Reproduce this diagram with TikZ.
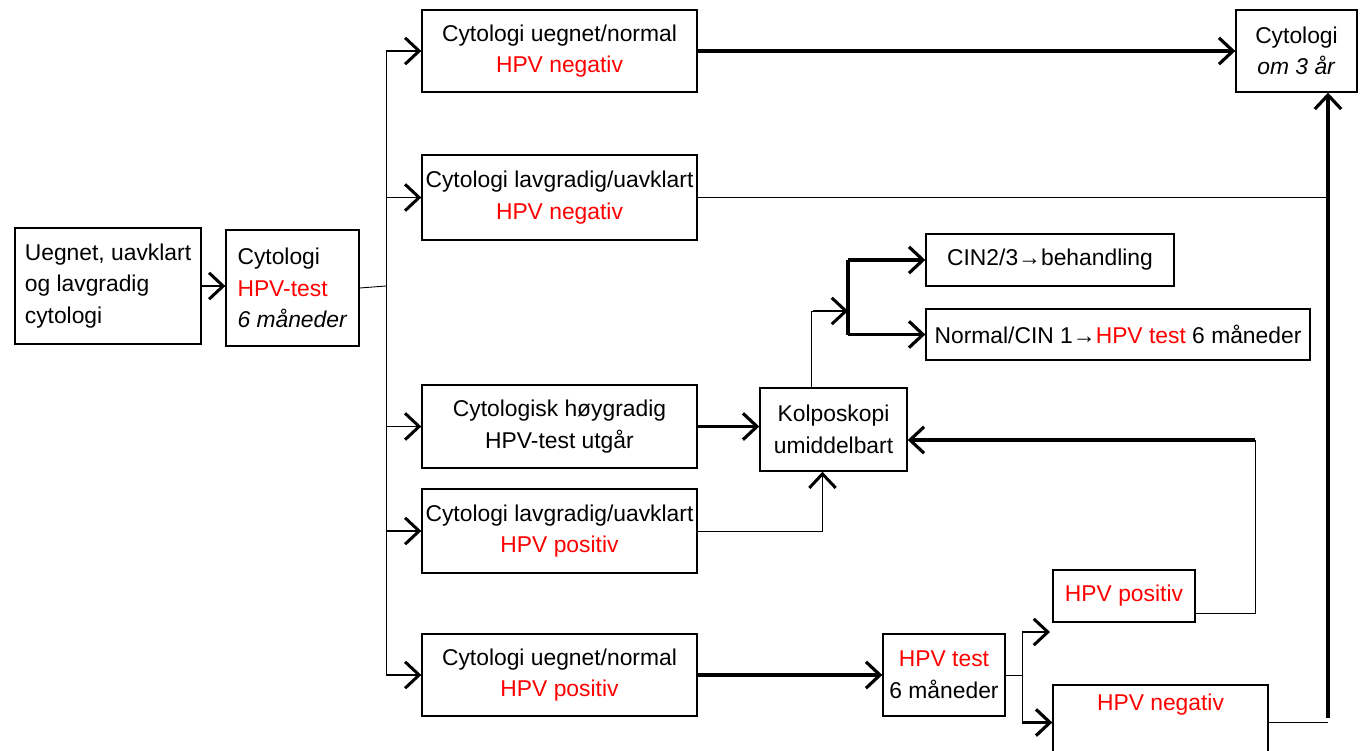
\documentclass[tikz,border=0pt]{standalone}
\usepackage{fontspec}
\setmainfont{Liberation Sans}
\usetikzlibrary{arrows.meta}
\definecolor{hpvred}{RGB}{255,0,0}
\newcommand{\hpv}[1]{\textcolor{hpvred}{#1}}

\begin{document}
\begin{tikzpicture}[x=0.02cm, y=-0.02cm,
  cellbox/.style={draw, line width=0.8pt, align=center, inner sep=2pt, font=\fontsize{13}{18}\selectfont},
  thinline/.style={line width=0.5pt},
  fatline/.style={line width=2.2pt},
  midarrow/.style={line width=1.1pt, -{Straight Barb[length=8pt,width=15pt,line width=1.7pt]}},
  fatarrow/.style={line width=2.2pt, -{Straight Barb[length=8pt,width=15pt,line width=1.8pt]}}]
\useasboundingbox (0,0) rectangle (1360,751);

% boxes
\node[cellbox, align=left, minimum width=3.72cm, minimum height=2.32cm] (start) at (108,286) {Uegnet, uavklart\\og lavgradig\\cytologi};
\node[cellbox, align=left, minimum width=2.66cm, minimum height=2.32cm] (halvaar) at (292.5,288) {Cytologi\\\hpv{HPV-test}\\\textit{6 måneder}};
\node[cellbox, minimum width=5.5cm, minimum height=1.64cm] (negA) at (559.5,51) {Cytologi uegnet/normal\\\hpv{HPV negativ}};
\node[cellbox, minimum width=5.5cm, minimum height=1.7cm] (negB) at (559.5,197.5) {Cytologi lavgradig/uavklart\\\hpv{HPV negativ}};
\node[cellbox, minimum width=5.5cm, minimum height=1.66cm] (hoyC) at (559.5,426.5) {Cytologisk høygradig\\HPV-test utgår};
\node[cellbox, minimum width=5.5cm, minimum height=1.68cm] (posD) at (559.5,531) {Cytologi lavgradig/uavklart\\\hpv{HPV positiv}};
\node[cellbox, minimum width=5.5cm, minimum height=1.64cm] (posE) at (559.5,675) {Cytologi uegnet/normal\\\hpv{HPV positiv}};
\node[cellbox, minimum width=2.42cm, minimum height=1.64cm] (om3) at (1296.5,51) {Cytologi\\\textit{om 3 år}};
\node[cellbox, minimum width=2.94cm, minimum height=1.66cm] (kolpo) at (833.5,429.5) {Kolposkopi\\umiddelbart};
\node[cellbox, minimum width=4.96cm, minimum height=1.04cm] (cin23) at (1050,260) {CIN2/3→behandling};
\node[cellbox, minimum width=7.68cm, minimum height=1.02cm] (normal) at (1118,334.5) {Normal/CIN 1→\hpv{HPV test} 6 måneder};
\node[cellbox, minimum width=2.44cm, minimum height=1.64cm] (hpvtest) at (944,675) {\hpv{HPV test}\\6 måneder};
\node[cellbox, minimum width=2.84cm, minimum height=1.04cm] (hpvpos) at (1124,596) {\hpv{HPV positiv}};
\node[cellbox, minimum width=4.3cm, minimum height=1.5cm] (hpvneg) at (1160.5,722.5) {\hpv{HPV negativ}\\\strut};

% left part
\coordinate (split) at (386,286);
\draw[midarrow] (start.east) -- (start.east -| halvaar.west);
\draw[thinline] (halvaar.east) -- (split);
\draw[thinline] (split |- negA.west) -- (split |- posE.west);
\foreach \b in {negA,negB,hoyC,posD,posE}
  \draw[midarrow] (split |- \b.west) -- (\b.west);

% to cytologi om 3 år
\coordinate (rise) at (1328,718);
\draw[fatarrow] (negA.east) -- (om3.west);
\draw[thinline] (negB.east) -- (negB.east -| rise);
\draw[thinline] (hpvneg.east) -- (hpvneg.east -| rise);
\draw[fatarrow] (rise) -- (rise |- om3.south);

% kolposkopi
\draw[fatarrow] (hoyC.east) -- (hoyC.east -| kolpo.west);
\draw[thinline] (posD.east) -| ([xshift=-0.22cm]kolpo.south);
\draw[midarrow] ([xshift=-0.22cm, yshift=-1.2cm]kolpo.south) -- ([xshift=-0.22cm]kolpo.south);
\coordinate (fork) at (848,311);
\draw[thinline] ([xshift=-0.45cm]kolpo.north) |- (fork);
\draw[midarrow] ([xshift=-0.7cm]fork) -- (fork);
\draw[fatline] (cin23.west -| fork) -- (normal.west -| fork);
\draw[fatarrow] (cin23.west -| fork) -- (cin23.west);
\draw[fatarrow] (normal.west -| fork) -- (normal.west);

% HPV test 6 måneder
\coordinate (fork2) at (1022,675);
\coordinate (posin) at (1050,632);
\draw[fatarrow] (posE.east) -- (hpvtest.west);
\draw[thinline] (hpvtest.east) -- (fork2);
\draw[thinline] (fork2 |- posin) -- (fork2 |- hpvneg.west);
\draw[midarrow] (fork2 |- posin) -- (posin);
\draw[fatarrow] (fork2 |- hpvneg.west) -- (hpvneg.west);
\coordinate (back) at (1255,440);
\draw[thinline] ([yshift=-0.34cm]hpvpos.east) -| (back);
\draw[fatarrow] (back) -- (back -| kolpo.east);
\end{tikzpicture}
\end{document}
